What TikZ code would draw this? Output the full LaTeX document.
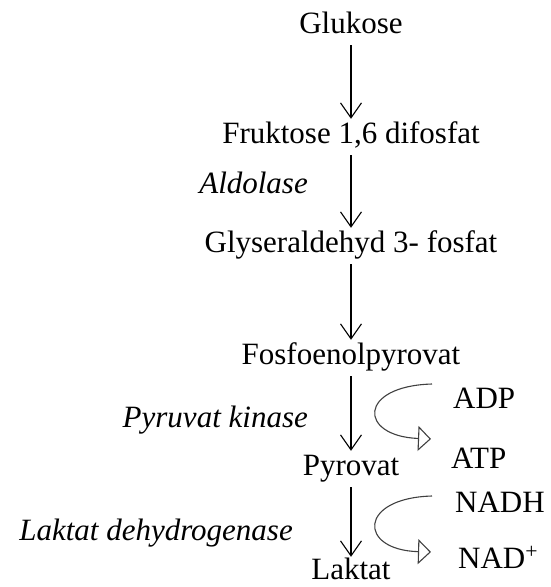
\documentclass[tikz,border=0pt]{standalone}
\usepackage{fontspec}
\setmainfont{Liberation Serif}
\usetikzlibrary{arrows.meta}
\begin{document}
\begin{tikzpicture}[x=1pt,y=-1pt,
  stoff/.style={font=\fontsize{31}{36}\selectfont, anchor=base, text height=20pt, text depth=8pt, inner xsep=0pt, inner ysep=4pt},
  enzym/.style={font=\fontsize{31}{36}\selectfont\itshape, anchor=base east, inner sep=0pt},
  kofaktor/.style={font=\fontsize{31}{36}\selectfont, anchor=base west, inner sep=0pt},
  reaksjon/.style={-{Straight Barb[length=15pt,width=21pt]}, line width=1.1pt},
  kobling/.style={-{Triangle[open,length=13pt,width=25pt]}, line width=1.1pt, draw=black!75}]
\useasboundingbox (0,0) rectangle (550,587);
% metabolitter
\node[stoff] (glukose) at (351,33) {Glukose};
\node[stoff] (fruktose) at (351,143) {Fruktose 1,6 difosfat};
\node[stoff] (gap) at (351,252) {Glyseraldehyd 3- fosfat};
\node[stoff] (pep) at (351,364) {Fosfoenolpyrovat};
\node[stoff] (pyrovat) at (351,475) {Pyrovat};
\node[stoff, text depth=0pt, inner ysep=2pt] (laktat) at (351,579) {Laktat};
% enzymer
\node[enzym] (aldolase) at (308,193) {Aldolase};
\node[enzym] (pk) at (308,427) {Pyruvat kinase};
\node[enzym] (ldh) at (293,540) {Laktat dehydrogenase};
% kofaktorer
\node[kofaktor] (adp) at (453,408) {ADP};
\node[kofaktor] (atp) at (451,468) {ATP};
\node[kofaktor] (nadh) at (455,512) {NADH};
\node[kofaktor] (nad) at (458,568) {NAD\textsuperscript{+}};
\coordinate (adpinn) at (432,384);
\coordinate (atput) at (431,439);
\coordinate (nadhinn) at (432,496);
\coordinate (nadut) at (431,552);
% piler
\draw[reaksjon] (glukose.south) -- (fruktose.north);
\draw[reaksjon] (fruktose.south) -- (gap.north);
\draw[reaksjon] (gap.south) -- (pep.north);
\draw[reaksjon] (pep.south) -- (pyrovat.north);
\draw[reaksjon] (pyrovat.south) -- (laktat.north);
\draw[kobling] (adpinn) .. controls (358,386) and (358,436) .. (atput);
\draw[kobling] (nadhinn) .. controls (358,498) and (358,550) .. (nadut);
\end{tikzpicture}
\end{document}
